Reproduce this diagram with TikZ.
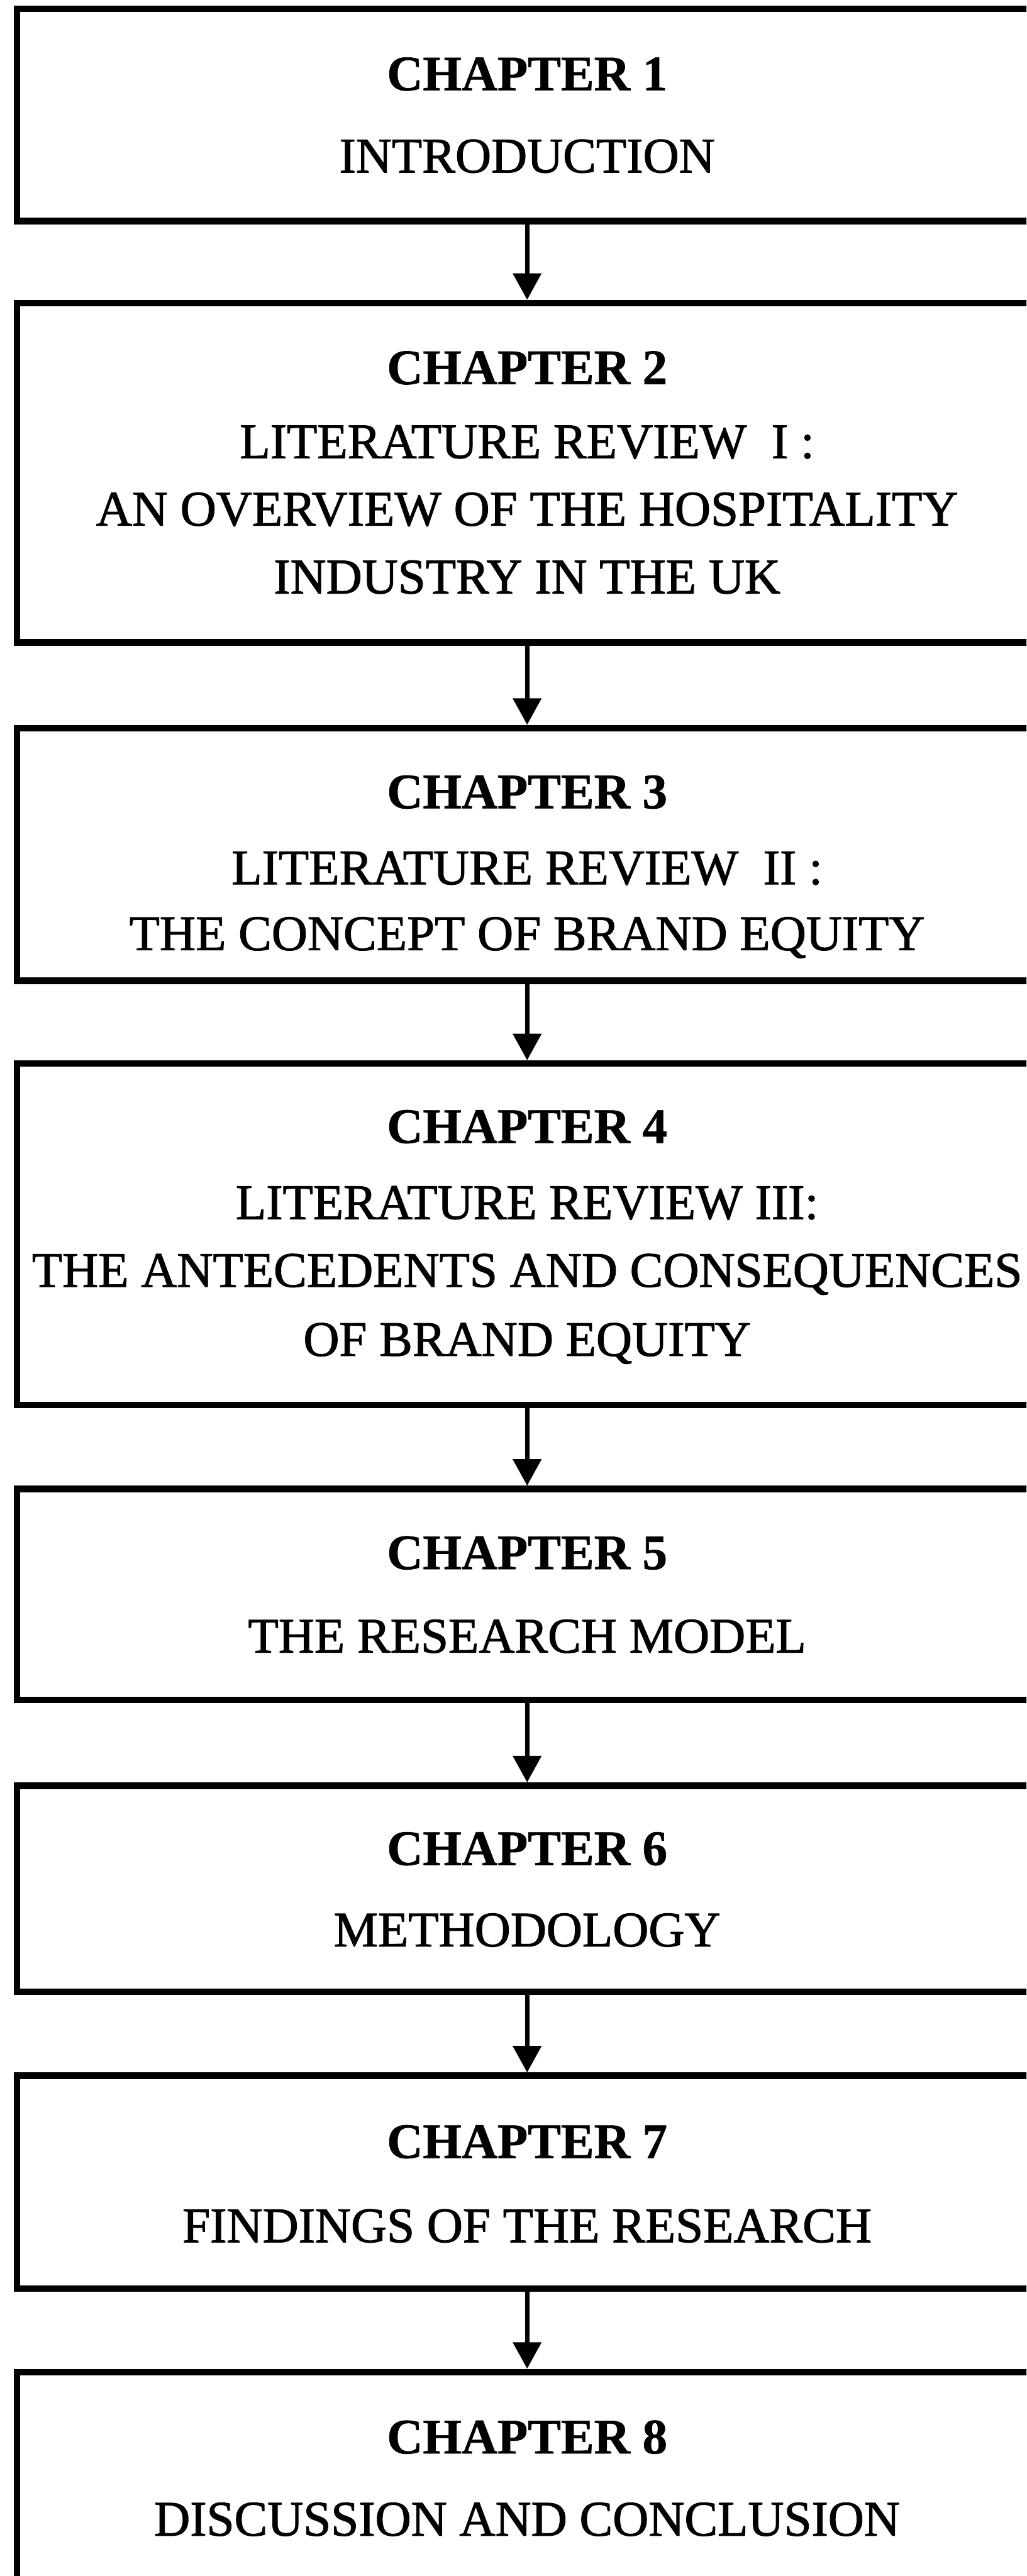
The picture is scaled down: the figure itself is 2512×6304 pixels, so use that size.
\documentclass[tikz,border=0pt]{standalone}
\usepackage{fontspec}
\setmainfont{Liberation Serif}
% heavier setting of the plain lines, as printed
\newfontfamily\linefont{Liberation Serif}[FakeBold=1.4]
\newfontfamily\chapfont{Liberation Serif}[BoldFont={Liberation Serif Bold}, BoldFeatures={FakeBold=0.8}]
\usetikzlibrary{arrows.meta}

\tikzset{
  box/.style={draw, rectangle, line width=0.16cm, minimum width=24.96cm, inner sep=0pt},
  arr/.style={line width=0.11cm, -{Triangle[width=0.68cm, length=0.65cm]}},
  chap/.style={anchor=base, inner sep=0pt, font=\fontsize{34.6}{40}\selectfont\chapfont\bfseries},
  title/.style={anchor=base, inner sep=0pt, font=\fontsize{34.6}{40}\selectfont\linefont},
}

\begin{document}
\begin{tikzpicture}[x=0.01cm, y=0.01cm]
  % page frame: the boxes run past the right edge
  \useasboundingbox (0,0) rectangle (2512,-6304);
  \clip (0,0) rectangle (2512,-6304);

  % chapter boxes
  \node[box, minimum height=5.19cm] (b1) at (1290,-281.5) {};
  \node[box, minimum height=8.30cm] (b2) at (1290,-1157) {};
  \node[box, minimum height=6.18cm] (b3) at (1290,-2091) {};
  \node[box, minimum height=8.35cm] (b4) at (1290,-3020.5) {};
  \node[box, minimum height=5.16cm] (b5) at (1290,-3902) {};
  \node[box, minimum height=5.04cm] (b6) at (1290,-4622) {};
  \node[box, minimum height=5.20cm] (b7) at (1290,-5340) {};
  \node[box, minimum height=5.18cm] (b8) at (1290,-6064) {};

  % connectors
  \draw[arr] (b1.south) -- (b2.north);
  \draw[arr] (b2.south) -- (b3.north);
  \draw[arr] (b3.south) -- (b4.north);
  \draw[arr] (b4.south) -- (b5.north);
  \draw[arr] (b5.south) -- (b6.north);
  \draw[arr] (b6.south) -- (b7.north);
  \draw[arr] (b7.south) -- (b8.north);

  % box texts
  \node[chap]  (t1a) at (1290,-221)  {CHAPTER 1};
  \node[title] (t1b) at (1290,-422)  {INTRODUCTION};

  \node[chap]  (t2a) at (1290,-940)  {CHAPTER 2};
  \node[title] (t2b) at (1290,-1121) {LITERATURE REVIEW\ \ I :};
  \node[title] (t2c) at (1290,-1286) {AN OVERVIEW OF THE HOSPITALITY};
  \node[title] (t2d) at (1290,-1452) {INDUSTRY IN THE UK};

  \node[chap]  (t3a) at (1290,-1978) {CHAPTER 3};
  \node[title] (t3b) at (1290,-2164) {LITERATURE REVIEW\ \ II :};
  \node[title] (t3c) at (1290,-2325) {THE CONCEPT OF BRAND EQUITY};

  \node[chap]  (t4a) at (1290,-2797) {CHAPTER 4};
  \node[title] (t4b) at (1290,-2983) {LITERATURE REVIEW III:};
  \node[title] (t4c) at (1290,-3149) {THE ANTECEDENTS AND CONSEQUENCES};
  \node[title] (t4d) at (1290,-3318) {OF BRAND EQUITY};

  \node[chap]  (t5a) at (1290,-3840) {CHAPTER 5};
  \node[title] (t5b) at (1290,-4044) {THE RESEARCH MODEL};

  \node[chap]  (t6a) at (1290,-4564) {CHAPTER 6};
  \node[title] (t6b) at (1290,-4763) {METHODOLOGY};

  \node[chap]  (t7a) at (1290,-5281) {CHAPTER 7};
  \node[title] (t7b) at (1290,-5487) {FINDINGS OF THE RESEARCH};

  \node[chap]  (t8a) at (1290,-6004) {CHAPTER 8};
  \node[title] (t8b) at (1290,-6205) {DISCUSSION AND CONCLUSION};
\end{tikzpicture}
\end{document}
